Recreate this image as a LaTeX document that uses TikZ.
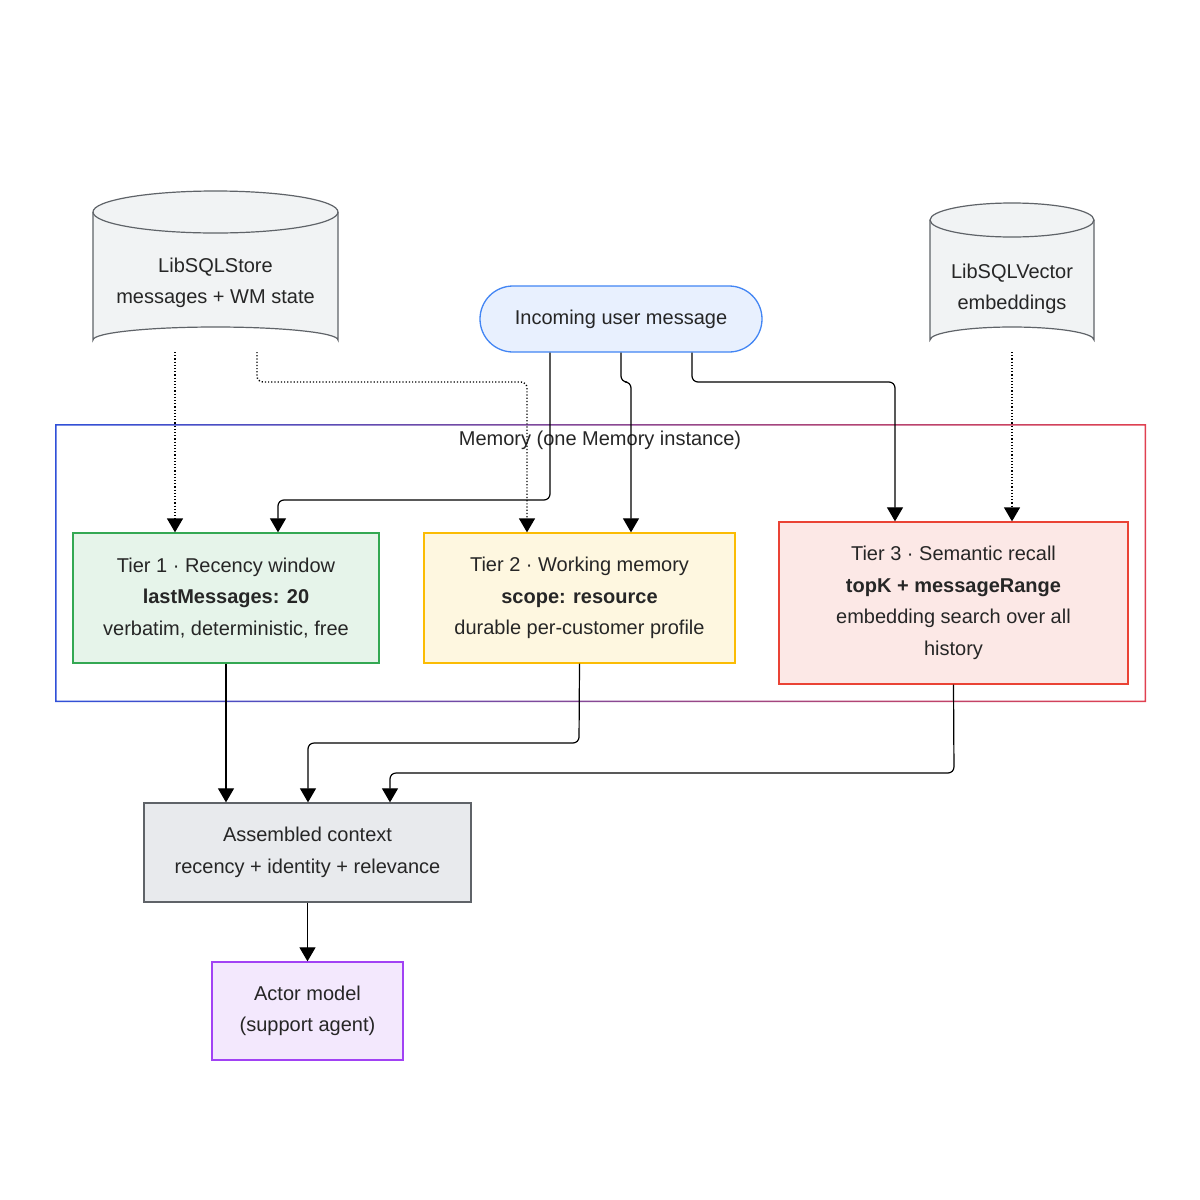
\documentclass[tikz,border=0pt]{standalone}
\usepackage{fontspec}
\setmainfont{Liberation Sans}
\usetikzlibrary{arrows.meta}
\definecolor{cylfill}{HTML}{F1F3F4}
\definecolor{cylline}{HTML}{5F6368}
\definecolor{inblue}{HTML}{E8F0FE}
\definecolor{inline}{HTML}{4285F4}
\definecolor{gfill}{HTML}{E6F4EA}
\definecolor{gline}{HTML}{34A853}
\definecolor{yfill}{HTML}{FEF7E0}
\definecolor{yline}{HTML}{FBBC04}
\definecolor{rfill}{HTML}{FCE8E6}
\definecolor{rline}{HTML}{EA4335}
\definecolor{afill}{HTML}{E8EAED}
\definecolor{pfill}{HTML}{F3E8FD}
\definecolor{pline}{HTML}{A142F4}
\definecolor{memblue}{HTML}{3050D8}
\definecolor{memred}{HTML}{E04050}
\begin{document}
\begin{tikzpicture}[x=1pt,y=-1pt,
  txt/.style={font=\fontsize{20}{31.5}\selectfont,align=center,text=black!85},
  box/.style={txt,draw,line width=1.3pt,inner sep=0pt},
  arr/.style={-{Triangle[length=14pt,width=16pt]},line width=1.2pt,rounded corners=6pt},
  dotarr/.style={arr,dotted,line width=1.4pt},
  cyl/.style={fill=cylfill,draw=cylline,line width=1.2pt}]
\useasboundingbox (0,0) rectangle (1200,1200);
\fill[white] (0,0) rectangle (1200,1200);
% cylinders
\path[cyl] (93,212) -- (93,340) arc[start angle=180,end angle=360,x radius=122.5,y radius=13] -- (338,212) arc[start angle=0,end angle=180,x radius=122.5,y radius=-21] -- cycle;
\draw[cylline,line width=1.2pt] (93,212) arc[start angle=180,end angle=360,x radius=122.5,y radius=-21];
\node[txt] (store) at (215.5,283) {LibSQLStore\\messages + WM state};
\coordinate (storeA) at (175,352);
\coordinate (storeB) at (257,352);
\path[cyl] (930,220) -- (930,340) arc[start angle=180,end angle=360,x radius=82,y radius=13] -- (1094,220) arc[start angle=0,end angle=180,x radius=82,y radius=-17] -- cycle;
\draw[cylline,line width=1.2pt] (930,220) arc[start angle=180,end angle=360,x radius=82,y radius=-17];
\node[txt] (vec) at (1012,289) {LibSQLVector\\embeddings};
\coordinate (vecA) at (1012,352);
% incoming
\node[box,fill=inblue,draw=inline,rounded corners=33pt,minimum width=282pt,minimum height=66pt] (in) at (621,319) {Incoming user message};
% memory frame
\shade[left color=memblue,right color=memred,even odd rule] (55,424) rectangle (1146,702) (56.5,425.5) rectangle (1144.5,700.5);
\node[txt] (memlbl) at (600,440) {Memory (one Memory instance)};
% tiers
\node[box,fill=gfill,draw=gline,minimum width=306pt,minimum height=130pt] (t1) at (226,598) {Tier 1 · Recency window\\\textbf{lastMessages: 20}\\verbatim, deterministic, free};
\node[box,fill=yfill,draw=yline,minimum width=311pt,minimum height=130pt] (t2) at (579.5,598) {Tier 2 · Working memory\\\textbf{scope: resource}\\durable per-customer profile};
\node[box,fill=rfill,draw=rline,minimum width=349pt,minimum height=162pt] (t3) at (953.5,603) {Tier 3 · Semantic recall\\\textbf{topK + messageRange}\\embedding search over all\\history};
\node[box,fill=afill,draw=cylline,minimum width=327pt,minimum height=99pt] (as) at (307.5,852.5) {Assembled context\\recency + identity + relevance};
\node[box,fill=pfill,draw=pline,minimum width=191pt,minimum height=98pt] (act) at (307.5,1011) {Actor model\\(support agent)};
% connectors
\draw[dotarr] (storeA) -- (storeA |- t1.north);
\draw[dotarr] (storeB) -- (257,382) -- (527,382) -- (t1.north -| 527,0);
\draw[dotarr] (vecA) -- (vecA |- t3.north);
\draw[arr] (in.south -| 550,0) -- (550,500) -- (278,500) -- (t1.north -| 278,0);
\draw[arr] (in.south -| 621,0) -- (621,382) -- (631,382) -- (t2.north -| 631,0);
\draw[arr] (in.south -| 692,0) -- (692,382) -- (895,382) -- (t3.north -| 895,0);
\draw[arr] (t1.south) -- (t1.south |- as.north);
\draw[arr] (t2.south) -- (579,743) -- (308,743) -- (as.north -| 308,0);
\draw[arr] (t3.south) -- (954,773) -- (390,773) -- (as.north -| 390,0);
\draw[arr] (as.south) -- (act.north);
\end{tikzpicture}
\end{document}
